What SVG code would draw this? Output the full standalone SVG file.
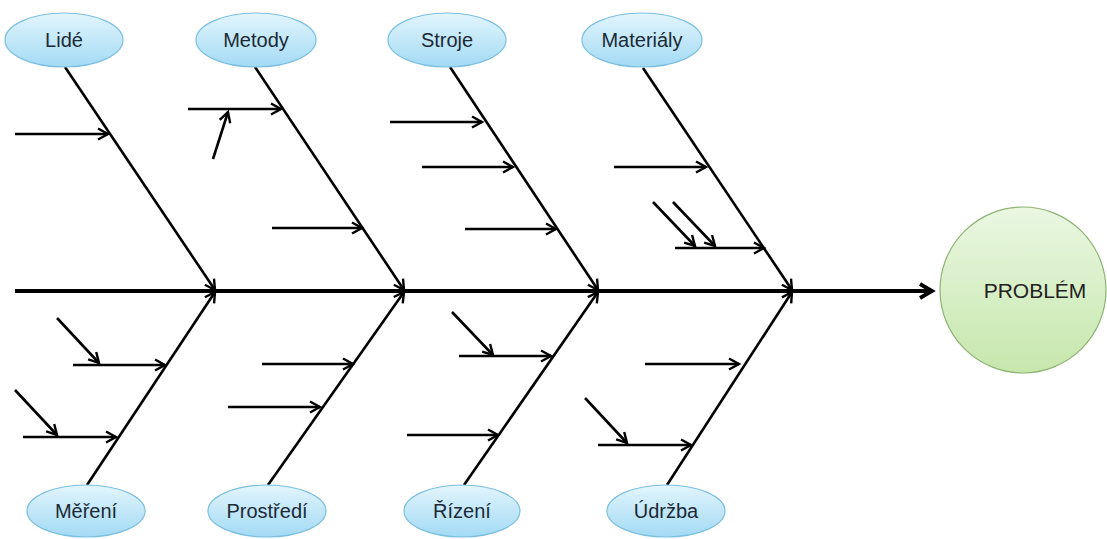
<svg xmlns="http://www.w3.org/2000/svg" width="1107" height="539" viewBox="0 0 1107 539">
  <defs>
    <linearGradient id="blueFill" x1="0" y1="0" x2="0" y2="1">
      <stop offset="0" stop-color="#e2f5fd"/>
      <stop offset="1" stop-color="#a3daf4"/>
    </linearGradient>
    <linearGradient id="greenFill" x1="0" y1="0" x2="0" y2="1">
      <stop offset="0" stop-color="#eaf7e2"/>
      <stop offset="1" stop-color="#c6e7ac"/>
    </linearGradient>
    <marker id="arr" markerUnits="userSpaceOnUse" markerWidth="16" markerHeight="16" refX="12" refY="7" orient="auto">
      <path d="M2,1.5 L12,7 L2,12.5" fill="none" stroke="#000" stroke-width="2.4" stroke-linejoin="miter"/>
    </marker>
    <marker id="arrBig" markerUnits="userSpaceOnUse" markerWidth="20" markerHeight="20" refX="15" refY="9" orient="auto">
      <path d="M3,2 L15,9 L3,16" fill="none" stroke="#000" stroke-width="3.8"/>
    </marker>
  </defs>
  <style>
    .cat ellipse { fill: url(#blueFill); stroke: #7bbfe0; stroke-width: 1.2; }
    .cat text { font-family: "Liberation Sans", Arial, sans-serif; font-size: 20px; fill: #1b2a36; text-anchor: middle; }
    .bone { stroke: #000; stroke-width: 2.6; fill: none; marker-end: url(#arr); }
    .sub { stroke: #000; stroke-width: 2.6; fill: none; marker-end: url(#arr); }
    .spine { stroke: #000; stroke-width: 4; fill: none; marker-end: url(#arrBig); }
  </style>
  <rect width="1107" height="539" fill="#ffffff"/>

  <g id="connectors">
    <!-- main spine -->
    <line class="spine" x1="15" y1="291" x2="932" y2="291"/>
    <!-- upper bones -->
    <line class="bone" x1="65" y1="67" x2="215" y2="290"/>
    <line class="bone" x1="255" y1="67" x2="404" y2="290"/>
    <line class="bone" x1="450" y1="67" x2="598" y2="290"/>
    <line class="bone" x1="643" y1="68" x2="792" y2="290"/>
    <!-- lower bones -->
    <line class="bone" x1="87" y1="485" x2="215" y2="292"/>
    <line class="bone" x1="268" y1="485" x2="404" y2="292"/>
    <line class="bone" x1="464" y1="485" x2="598" y2="292"/>
    <line class="bone" x1="667" y1="485" x2="792" y2="292"/>
    <!-- Lidé causes -->
    <line class="sub" x1="15" y1="134" x2="108" y2="134"/>
    <!-- Metody causes -->
    <line class="sub" x1="188" y1="109" x2="281" y2="109"/>
    <line class="sub" x1="213" y1="159" x2="228" y2="112"/>
    <line class="sub" x1="272" y1="228" x2="362" y2="228"/>
    <!-- Stroje causes -->
    <line class="sub" x1="390" y1="122" x2="482" y2="122"/>
    <line class="sub" x1="422" y1="167" x2="513" y2="167"/>
    <line class="sub" x1="465" y1="229" x2="556" y2="229"/>
    <!-- Materiály causes -->
    <line class="sub" x1="614" y1="167" x2="706" y2="167"/>
    <line class="sub" x1="675" y1="248" x2="764" y2="248"/>
    <line class="sub" x1="653" y1="202" x2="695" y2="246"/>
    <line class="sub" x1="673" y1="202" x2="715" y2="246"/>
    <!-- Měření causes -->
    <line class="sub" x1="73" y1="365" x2="165" y2="365"/>
    <line class="sub" x1="57" y1="318" x2="99" y2="363"/>
    <line class="sub" x1="23" y1="437" x2="116" y2="437"/>
    <line class="sub" x1="15" y1="390" x2="57" y2="435"/>
    <!-- Prostředí causes -->
    <line class="sub" x1="262" y1="364" x2="353" y2="364"/>
    <line class="sub" x1="228" y1="407" x2="320" y2="407"/>
    <!-- Řízení causes -->
    <line class="sub" x1="459" y1="356" x2="551" y2="356"/>
    <line class="sub" x1="452" y1="312" x2="493" y2="355"/>
    <line class="sub" x1="407" y1="435" x2="498" y2="435"/>
    <!-- Údržba causes -->
    <line class="sub" x1="645" y1="364" x2="739" y2="364"/>
    <line class="sub" x1="598" y1="445" x2="691" y2="445"/>
    <line class="sub" x1="585" y1="398" x2="627" y2="443"/>
  </g>

  <g id="node-lide" class="cat">
    <ellipse cx="64" cy="40" rx="59" ry="27"/>
    <text x="64" y="47">Lidé</text>
  </g>
  <g id="node-metody" class="cat">
    <ellipse cx="256" cy="40" rx="60" ry="27"/>
    <text x="256" y="47">Metody</text>
  </g>
  <g id="node-stroje" class="cat">
    <ellipse cx="447" cy="40" rx="59" ry="27"/>
    <text x="447" y="47">Stroje</text>
  </g>
  <g id="node-materialy" class="cat">
    <ellipse cx="642" cy="40" rx="60" ry="27"/>
    <text x="642" y="47">Materiály</text>
  </g>
  <g id="node-mereni" class="cat">
    <ellipse cx="86" cy="511" rx="59" ry="26"/>
    <text x="86" y="518">Měření</text>
  </g>
  <g id="node-prostredi" class="cat">
    <ellipse cx="267" cy="511" rx="59" ry="26"/>
    <text x="267" y="518">Prostředí</text>
  </g>
  <g id="node-rizeni" class="cat">
    <ellipse cx="462" cy="511" rx="58" ry="26"/>
    <text x="462" y="518">Řízení</text>
  </g>
  <g id="node-udrzba" class="cat">
    <ellipse cx="666" cy="511" rx="59" ry="26"/>
    <text x="666" y="518">Údržba</text>
  </g>

  <g id="node-problem">
    <circle cx="1023" cy="290" r="83" fill="url(#greenFill)" stroke="#8fb374" stroke-width="1.2"/>
    <text x="1035" y="298" font-family="'Liberation Sans', Arial, sans-serif" font-size="21" fill="#222" text-anchor="middle">PROBLÉM</text>
  </g>
</svg>
